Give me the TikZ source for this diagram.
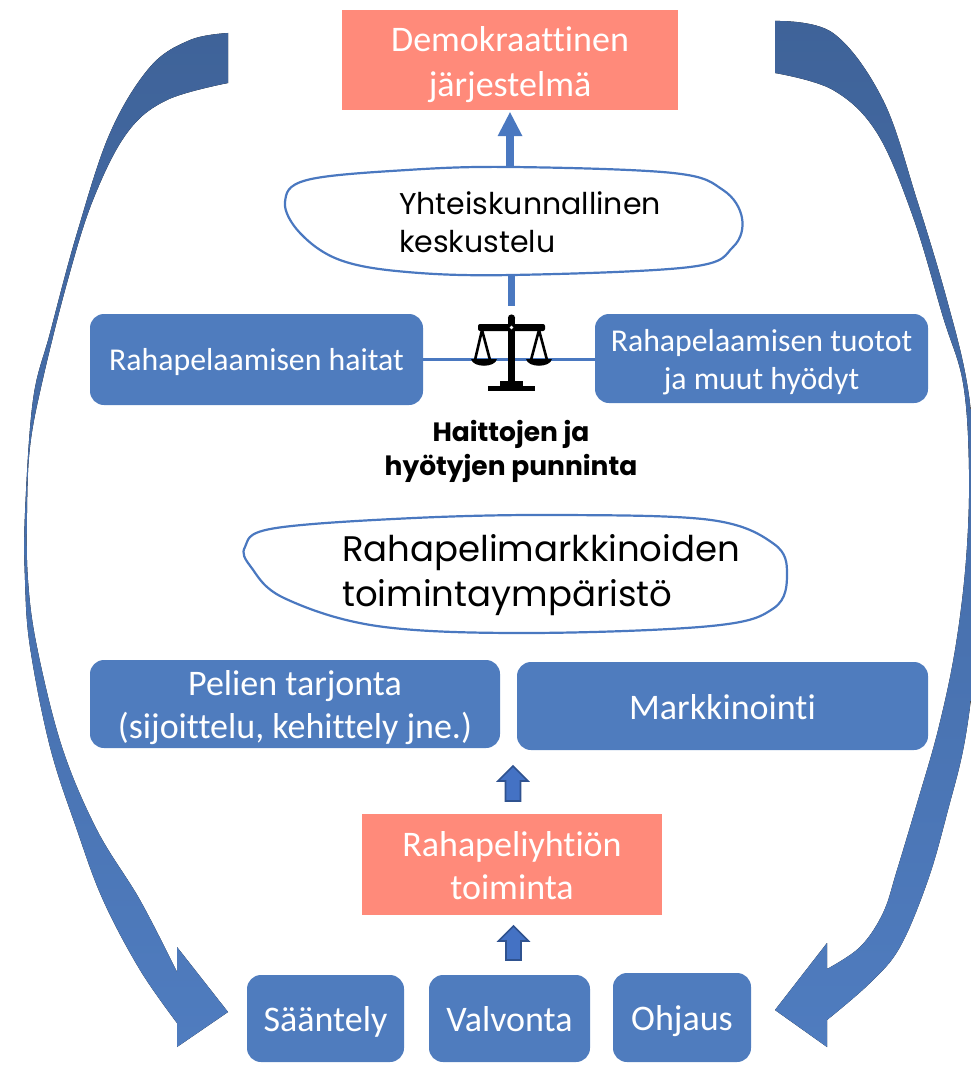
\documentclass[tikz,border=0pt]{standalone}
\usepackage{fontspec}
\setmainfont{Carlito}[Ligatures=NoCommon]
\newfontfamily\gothic{Poppins}[Ligatures=NoCommon]
\usetikzlibrary{calc}
\definecolor{boxblue}{HTML}{4F7CBE}
\definecolor{salmon}{HTML}{FF8A7A}
\definecolor{arrdark}{HTML}{3F6399}
\definecolor{arrlight}{HTML}{4F7CBF}
\definecolor{linkblue}{HTML}{4A78C0}
\definecolor{smallfill}{HTML}{4472C4}
\definecolor{smalledge}{HTML}{2F528F}
\begin{document}
\begin{tikzpicture}[x=1pt,y=-1pt,
  bluebox/.style={rounded corners=14pt, fill=boxblue, text=white, align=center, inner sep=0pt,
    font=\fontsize{36}{43}\selectfont},
  oneline/.style={text height=26pt, text depth=0pt},
  smallbluebox/.style={bluebox, font=\fontsize{31.8}{38}\selectfont},
  salmonbox/.style={fill=salmon, text=white, align=center, inner sep=0pt,
    font=\fontsize{36}{45}\selectfont},
  boxtext/.style={text=white, align=center, inner sep=0pt},
  blob/.style={draw=linkblue, line width=2.2pt, fill=white},
  blobtext/.style={anchor=west, align=left, inner sep=0pt, text=black},
  bigarrow/.style={top color=arrdark, middle color=arrdark!55!arrlight, bottom color=arrlight},
  smallarrow/.style={fill=smallfill, draw=smalledge, line width=1.6pt, line join=miter},
  thickline/.style={draw=linkblue, line width=7.5pt},
  thinline/.style={draw=linkblue, line width=2.8pt}
]
\useasboundingbox (0,0) rectangle (971,1065);
\clip (0,0) rectangle (971,1065);

% big curved arrows
\fill[bigarrow]
  plot[smooth, tension=0.6] coordinates {(228,33) (190,40) (150,67) (110,133) (77,233) (50,333) (33,400) (25,513) (25,580) (30,647) (50,747) (77,830) (103,900) (140,970) (177,1023)}
  -- (177,1047) -- (228,1012) -- (177,947) -- (177,972)
  -- plot[smooth, tension=0.6] coordinates {(177,972) (140,900) (97,830) (62,747) (37,647) (28,580) (27,513) (30,447) (42,383) (67,283) (93,200) (127,133) (167,100) (228,83)}
  -- cycle;
\fill[bigarrow]
  plot[smooth, tension=0.6] coordinates {(775,21) (833,33) (883,100) (917,200) (947,300) (967,383) (976,470) (979,560) (976,650) (965,740) (948,810) (928,880) (900,947) (870,983) (827,1020)}
  -- (827,1047) -- (775,1010) -- (827,943) -- (827,969)
  -- plot[smooth, tension=0.6] coordinates {(827,969) (860,947) (883,913) (897,870) (918,800) (938,730) (955,650) (966,560) (969,470) (963,383) (943,317) (913,217) (877,133) (833,90) (775,73)}
  -- cycle;

% top box
\node[salmonbox, minimum width=336pt, minimum height=100pt] (demo) at (510,60) {};
\node[boxtext, font=\fontsize{36}{45}\selectfont] (demot) at ($(demo.center)+(0,5)$) {Demokraattinen\\järjestelmä};

% blob 1
\node[minimum width=457pt, minimum height=108pt, inner sep=0pt] (e1) at (513.5,221) {};
\draw[blob] plot[smooth cycle, tension=0.6] coordinates {(285,202) (307,180) (407,170) (512,167) (673,173) (723,190) (742,218) (733,247) (690,267) (512,275) (407,272) (340,260) (300,233)};
\node[blobtext, font=\gothic\fontsize{30}{38}\selectfont] (e1t) at (399,222) {Yhteiskunnallinen\\keskustelu};

% arrow up to demo
\coordinate (demoin) at ($(demo.south)+(0,2)$);
\draw[thickline] (e1.north -| demo.south) -- ($(demoin)+(0,20)$);
\fill[linkblue] (demoin) -- ++(12.5,24) -- ++(-25,0) -- cycle;

% side boxes
\node[smallbluebox, text height=21pt, text depth=0pt, minimum width=333pt, minimum height=91pt] (haitat) at (256.5,359.5) {Rahapelaamisen haitat};
\node[smallbluebox, minimum width=333pt, minimum height=89pt] (tuotot) at (761.5,358.5) {};
\node[boxtext, font=\fontsize{31.8}{38}\selectfont] (tuotott) at ($(tuotot.center)+(0,4)$) {Rahapelaamisen tuotot\\ja muut hyödyt};
\draw[thinline] (haitat.east) -- (haitat.east -| tuotot.west);

% balance
\coordinate (baltop) at (511.5,306);
\draw[thickline] (e1.south -| baltop) -- (baltop);
\begin{scope}[black]
  \fill (508,317) rectangle (515,383);
  \fill (511.5,318) circle (3.6);
  \fill[rounded corners=2pt] (478,324) rectangle (545,331);
  \draw[line width=2.6pt] (482,330) -- (475,360) (482,330) -- (490,360);
  \draw[line width=2.6pt] (539,330) -- (531,360) (539,330) -- (547,360);
  \fill (471,359) -- (497,359) .. controls (495,368) and (473,368) .. cycle;
  \fill (526,359) -- (552,359) .. controls (550,368) and (528,368) .. cycle;
  \fill (500,381) rectangle (523,386);
  \fill (488,385.5) rectangle (535,391);
  \fill[white] (511.5,327.5) circle (1.9);
\end{scope}

% label
\node[align=center, inner sep=0pt, font=\gothic\bfseries\fontsize{26.5}{34}\selectfont] (lab) at (511,451) {Haittojen ja\\hyötyjen punninta};

% blob 2
\node[minimum width=542pt, minimum height=118pt, inner sep=0pt] (e2) at (516,574) {};
\draw[blob] plot[smooth cycle, tension=0.6] coordinates {(245,547) (273,528.5) (414,518) (562,515) (711,520) (774,544) (787,574) (774,608) (711,626) (525,633) (377,626) (284,598) (251,567)};
\node[blobtext, font=\gothic\fontsize{35.5}{45}\selectfont] (e2t) at (342,575) {Rahapelimarkkinoiden\\toimintaympäristö};

% middle boxes
\node[bluebox, minimum width=410pt, minimum height=88pt] (pelien) at (295,704) {};
\node[boxtext, font=\fontsize{36}{43}\selectfont] (pelient) at ($(pelien.center)+(0,4)$) {Pelien tarjonta\\(sijoittelu, kehittely jne.)};
\node[bluebox, oneline, minimum width=411pt, minimum height=88pt] (mark) at (722.5,706) {Markkinointi};

% small arrow 1
\coordinate (a1) at (513,766);
\draw[smallarrow] (a1) -- ++(15,15) -- ++(-7.5,0) -- ++(0,20) -- ++(-15,0) -- ++(0,-20) -- ++(-7.5,0) -- cycle;

% company box
\node[salmonbox, minimum width=300pt, minimum height=101pt] (yhtio) at (512,864.5) {};
\node[boxtext, font=\fontsize{36}{43}\selectfont] (yhtiot) at ($(yhtio.center)+(0,1)$) {Rahapeliyhtiön\\toiminta};

% small arrow 2
\coordinate (a2) at (513.5,926);
\draw[smallarrow] (a2) -- ++(15,15) -- ++(-7.5,0) -- ++(0,19) -- ++(-15,0) -- ++(0,-19) -- ++(-7.5,0) -- cycle;

% bottom boxes
\node[bluebox, oneline, minimum width=157pt, minimum height=87pt] (saant) at (325.5,1018.5) {Sääntely};
\node[bluebox, oneline, minimum width=161pt, minimum height=87pt] (valv) at (509.5,1018.5) {Valvonta};
\node[bluebox, oneline, minimum width=138pt, minimum height=89pt] (ohj) at (682,1017.5) {Ohjaus};
\end{tikzpicture}
\end{document}
